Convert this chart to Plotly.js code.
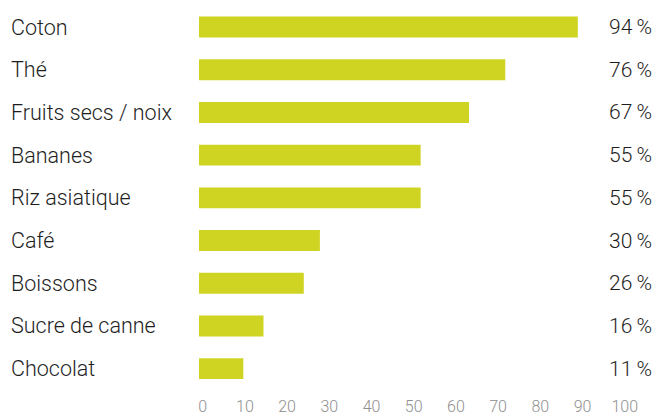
<!DOCTYPE html>
<html><head><meta charset="utf-8">
<script src="https://cdn.plot.ly/plotly-3.0.1.min.js"></script>
<style>html,body{margin:0;padding:0;background:#fff}</style>
</head><body><div id="chart" style="width:656px;height:417px"></div>
<script>
const categories = ["Coton","Thé","Fruits secs / noix","Bananes","Riz asiatique","Café","Boissons","Sucre de canne","Chocolat"];
const values = [94,76,67,55,55,30,26,16,11];
const valueLabels = ["94\u2009%","76\u2009%","67\u2009%","55\u2009%","55\u2009%","30\u2009%","26\u2009%","16\u2009%","11\u2009%"];
const tickValues = [0,10,20,30,40,50,60,70,80,90,100];

const W = 656, H = 417, ML = 199, MR = 0, MT = 4, MB = 27;
const PW = W - ML - MR;
const pxPerUnitBars = 4.03;
const tickZeroOffset = 3.7, pxPerUnitTicks = 4.22;

const txt = '#1e1e1e';
const fnt = 'Roboto, Liberation Sans, Arial, sans-serif';

const annotations = [];
categories.forEach((c,i)=>{
  annotations.push({xref:'paper', yref:'y', x:(9-ML)/PW, y:c, text:c, showarrow:false,
    xanchor:'left', yanchor:'middle', font:{family:fnt,size:21.5,weight:300,color:txt}});
  annotations.push({xref:'paper', yref:'y', x:(654-ML)/PW, y:c, text:valueLabels[i], showarrow:false,
    xanchor:'right', yanchor:'middle', font:{family:fnt,size:21,weight:300,color:txt}});
});

const data = [{
  type:'bar', orientation:'h', x:values, y:categories,
  marker:{color:'#cfd422'}, hoverinfo:'none'
},{
  type:'scatter', mode:'markers', x:[0,100], y:[categories[0],categories[0]], xaxis:'x2',
  marker:{opacity:0}, hoverinfo:'none', showlegend:false
}];

const layout = {
  width:W, height:H, margin:{l:ML,r:MR,t:MT,b:MB},
  paper_bgcolor:'#fff', plot_bgcolor:'#fff', showlegend:false,
  bargap:0.51,
  xaxis:{range:[0, PW/pxPerUnitBars], showgrid:false, zeroline:false, showticklabels:false, showline:false, fixedrange:true},
  xaxis2:{overlaying:'x', side:'bottom', range:[-tickZeroOffset/pxPerUnitTicks, (PW-tickZeroOffset)/pxPerUnitTicks],
    tickmode:'array', tickvals:tickValues, ticktext:tickValues.map(String), showgrid:false, zeroline:false, showline:false,
    ticks:'', ticklabelstandoff:5, tickfont:{family:fnt,size:16,weight:300,color:'#8f8f8f'}},
  yaxis:{type:'category', categoryorder:'array', categoryarray:categories, autorange:'reversed',
    range:[8.5,-0.5], showticklabels:false, showgrid:false, zeroline:false, ticks:''},
  annotations:annotations
};
Plotly.newPlot('chart', data, layout, {displayModeBar:false, staticPlot:true});
</script></body></html>
